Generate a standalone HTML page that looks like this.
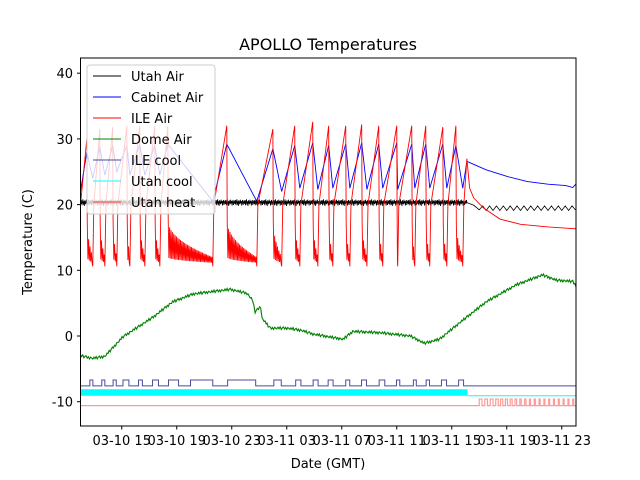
<!DOCTYPE html>
<html><head><meta charset="utf-8">
<style>
html,body{margin:0;padding:0;background:#fff;}
svg{display:block;font-family:"DejaVu Sans","Liberation Sans",sans-serif;}
</style></head>
<body>
<svg id="chart" width="640" height="480" viewBox="0 0 640 480">
<rect x="0" y="0" width="640" height="480" fill="#fff"/>
<text x="328" y="50" font-size="16" text-anchor="middle">APOLLO Temperatures</text>
<text x="328" y="468" font-size="13" text-anchor="middle">Date (GMT)</text>
<text transform="translate(32,242) rotate(-90)" font-size="13" text-anchor="middle">Temperature (C)</text>
<defs><clipPath id="clip"><rect x="80.5" y="58" width="495.5" height="368"/></clipPath></defs>
<g id="plot" clip-path="url(#clip)"></g>
<g id="axes"></g>
<g id="legend"></g>
</svg>
<script>
// ---- data (hours since 03-10 12:00 GMT; values in deg C) ----
const xTickHours = [3,7,11,15,19,23,27,31,35];
const xTickLabels = ["03-10 15","03-10 19","03-10 23","03-11 03","03-11 07","03-11 11","03-11 15","03-11 19","03-11 23"];
const yTicks = [-10,0,10,20,30,40];

const ilePeakHours = [0.46,1.4,2.34,3.37,4.31,5.4,6.35,10.64,13.99,15.58,16.89,18.05,19.29,20.45,21.69,23.0,24.09,25.11,26.35,27.3,28.1];
const ilePeakValues = [30,31.5,31.8,32,32,32,32,32,31.5,32,32.6,32,32,32.2,32,32,32,32,31.8,32,27];
const riseStartHours = [0.89,1.77,2.64,3.59,4.68,5.77,9.62,12.82,14.63,15.95,17.26,18.35,19.59,20.83,21.98,23.07,24.31,25.4,26.64,27.8];
const ileTailHours = [28.3,28.6,29.3,30.5,32,34,36.1];
const ileTailValues = [22.5,21,19.5,17.8,17,16.6,16.3];

const cabPeakValues = [28,28.8,29,29,29.2,29,29.2,29.2,28.5,29,29.4,29,29.2,29.4,29.2,29.4,29.2,29.2,29.2,29,26.6];
const cabTroughValues = [24,24.5,25,24.5,24.5,24.5,20.5,20.5,22,22.5,22.3,22.5,22.5,22.3,22.5,22.3,22.5,22.5,22.5,22.5];
const cabTailHours = [28.4,29.5,31,32.5,34,35.3,35.8,36.1];
const cabTailValues = [26.3,25.3,24.3,23.5,23.1,22.9,22.6,23.3];

const utahNoise = [0.3,-0.2,0.4,-0.4,0.1,0.5,-0.3,0.2,-0.5,0.35,0,-0.25,0.45,-0.1,0.25,-0.45,0.15,0.4,-0.35,0.05];
const utahBase = 20.3;
const utahTailHours = [28.1,28.6,29.0,29.25,29.5,29.75,30.0,30.25,30.5,30.75,31.0,31.25,31.5,31.75,32.0,32.25,32.5,32.75,33.0,33.25,33.5,33.75,34.0,34.25,34.5,34.75,35.0,35.25,35.5,35.75,36.0];
const utahTailValues = [20.3,19.9,19.2,19.8,19.1,19.8,19.1,19.8,19.1,19.8,19.1,19.8,19.1,19.8,19.1,19.8,19.1,19.8,19.1,19.8,19.1,19.8,19.1,19.8,19.1,19.8,19.1,19.8,19.1,19.8,19.2];

const domeHours = [0,0.9,1.77,3.1,5.3,6.7,8.2,10.9,12.1,12.5,12.7,13.1,13.2,13.8,15.0,16.0,16.9,19.1,19.8,21.8,24.0,25.0,26.1,27.8,29.5,31.7,33.6,34.6,35.8,36.1];
const domeValues = [-3.0,-3.4,-3.1,-0.1,2.9,5.2,6.4,7.1,6.5,5.5,3.7,4.5,2.7,1.2,1.2,0.9,0.3,-0.5,0.7,0.5,0.0,-1.1,-0.5,2.4,5.2,7.8,9.3,8.5,8.3,7.5];
const domeNoise = [0.15,-0.1,0.2,-0.2,0.05,0.18,-0.15,0.1,-0.2,0.12,0,-0.12];

const ileCoolStart = [0.68,1.55,2.37,3.09,4.22,5.24,6.4,8.0,10.7,14.06,15.65,16.92,18.01,19.29,20.44,21.72,22.98,24.21,25.14,26.25,27.5];
const ileCoolEnd = [0.9,1.77,2.6,3.52,4.5,5.67,7.13,9.62,12.74,14.6,16.03,17.28,18.37,19.58,20.8,22.13,23.22,24.42,25.38,26.62,27.86];
const ileCoolLow = -7.6, ileCoolHigh = -6.7;

const utahCoolEndHour = 28.15;
const utahCoolTop = -8.1, utahCoolBottom = -9.1;

const heatStart = [29.0,29.4,29.8,30.2,30.55,30.9,31.25,31.6,31.95,32.3,32.65,33.0,33.35,33.7,34.05,34.4,34.75,35.1,35.45,35.8];
const heatDur = [0.2,0.2,0.2,0.18,0.16,0.15,0.14,0.12,0.1,0.1,0.08,0.08,0.08,0.07,0.07,0.07,0.07,0.07,0.07,0.07];
const heatLow = -10.6, heatHigh = -9.6;

const legendNames = ["Utah Air","Cabinet Air","ILE Air","Dome Air","ILE cool","Utah cool","Utah heat"];
const legendColors = ["#000","#0000ff","#ff0000","#008000","#4b4b9c","#00ffff","#ff4040"];

// ---- scales ----
const X0 = 80.5, PXH = 13.75;
function X(h){ return X0 + h*PXH; }
function Y(v){ return 336 - 6.57*v; }
const NS = "http://www.w3.org/2000/svg";
const plot = document.getElementById('plot');
const axes = document.getElementById('axes');
const legend = document.getElementById('legend');
function mk(tag, attrs, parent){ const e=document.createElementNS(NS,tag); for(const k in attrs) e.setAttribute(k,attrs[k]); parent.appendChild(e); return e; }
function pathFrom(pts){ return pts.map((p,i)=>(i?'L':'M')+X(p[0]).toFixed(2)+' '+Y(p[1]).toFixed(2)).join(' '); }

// ---- Utah cool band ----
let e = mk('rect',{x:X(0),y:Y(utahCoolTop),width:X(utahCoolEndHour)-X(0),height:Y(utahCoolBottom)-Y(utahCoolTop),fill:'#00ffff'},plot);


e = mk('path',{d:pathFrom([[utahCoolEndHour,utahCoolBottom],[37,utahCoolBottom]]),stroke:'#00ffff',fill:'none','stroke-width':1},plot);



// ---- Utah heat ----
let hp = [[0,heatLow]];
heatStart.forEach((s,i)=>{ hp.push([s,heatLow],[s,heatHigh],[s+heatDur[i],heatHigh],[s+heatDur[i],heatLow]); });
hp.push([37,heatLow]);
e = mk('path',{d:pathFrom(hp),stroke:'#ff0000','stroke-opacity':0.4,fill:'none','stroke-width':1.2},plot);



// ---- ILE cool ----
let cp = [[0,ileCoolLow]];
ileCoolStart.forEach((s,i)=>{ cp.push([s,ileCoolLow],[s,ileCoolHigh],[ileCoolEnd[i],ileCoolHigh],[ileCoolEnd[i],ileCoolLow]); });
cp.push([37,ileCoolLow]);
e = mk('path',{d:pathFrom(cp),stroke:'#4b4b9c',fill:'none','stroke-width':1},plot);



// ---- Dome Air ----
let gp = [];
let gk = 0;
for(let i=0;i<domeHours.length-1;i++){
  const h0=domeHours[i], h1=domeHours[i+1], v0=domeValues[i], v1=domeValues[i+1];
  const n = Math.max(1, Math.round((h1-h0)/0.08));
  for(let j=0;j<n;j++){ const f=j/n; gp.push([h0+(h1-h0)*f, v0+(v1-v0)*f + domeNoise[gk%domeNoise.length]]); gk++; }
}
gp.push([domeHours[domeHours.length-1], domeValues[domeValues.length-1]]);
e = mk('path',{d:pathFrom(gp),stroke:'#008000',fill:'none','stroke-width':1.1},plot);



// ---- Cabinet Air ----
let bp = [[0,22]];
ilePeakHours.forEach((p,i)=>{
  bp.push([p,cabPeakValues[i]]);
  if(i<riseStartHours.length) bp.push([riseStartHours[i],cabTroughValues[i]]);
});
cabTailHours.forEach((h,i)=>bp.push([h,cabTailValues[i]]));
e = mk('path',{d:pathFrom(bp),stroke:'#0000ff',fill:'none','stroke-width':0.9},plot);



// ---- Utah Air ----
let up = [];
let k=0;
for(let h=0; h<=28.1; h+=0.035){ up.push([h, utahBase + utahNoise[k%utahNoise.length]]); k++; }
utahTailHours.forEach((h,i)=>up.push([h,utahTailValues[i]]));
e = mk('path',{d:pathFrom(up),stroke:'#000',fill:'none','stroke-width':0.8},plot);



// ---- ILE Air ----
let rp = [[0,20]];
ilePeakHours.forEach((p,i)=>{
  rp.push([p,ilePeakValues[i]]);
  if(i<riseStartHours.length){
    const r = riseStartHours[i];
    rp.push([p+0.03,17.5]);
    const span = r-p-0.03;
    const n = Math.max(2, Math.round(span/0.05));
    for(let j=1;j<n;j++){
      const f=j/n;
      const up1 = 17.5 - 5.5*Math.sqrt(f);
      rp.push([p+0.03+span*f, (j%2)? 11 + (up1-11)*0.15 : up1]);
    }
    rp.push([r,10.6],[r+0.08,20]);
  }
});
ileTailHours.forEach((h,i)=>rp.push([h,ileTailValues[i]]));
e = mk('path',{d:pathFrom(rp),stroke:'#ff0000',fill:'none','stroke-width':0.9},plot);



// ---- axes frame & ticks ----
e = mk('rect',{x:80.5,y:58,width:495.5,height:368,fill:'none',stroke:'#000','stroke-width':1},axes);


yTicks.forEach(v=>{
  const t = mk('line',{x1:77,x2:80.5,y1:Y(v),y2:Y(v),stroke:'#000'},axes);
  
  
  const l = mk('text',{x:73,y:Y(v)+5,'font-size':13,'text-anchor':'end'},axes);
  l.textContent = v;
  
  
});
xTickHours.forEach((h,i)=>{
  const t = mk('line',{x1:X(h),x2:X(h),y1:426,y2:429.5,stroke:'#000'},axes);
  
  
  const l = mk('text',{x:X(h),y:445,'font-size':13,'text-anchor':'middle'},axes);
  l.textContent = xTickLabels[i];
  
  
});

// ---- legend ----
e = mk('rect',{x:87,y:65,width:128,height:149,rx:3,fill:'#fff','fill-opacity':0.8,stroke:'#cccccc','stroke-width':1},legend);


legendNames.forEach((n,i)=>{
  const y = 76 + i*21;
  const ln = mk('line',{x1:93,x2:121,y1:y,y2:y,stroke:legendColors[i],'stroke-width':1},legend);
  
  
  const tx = mk('text',{x:131,y:y+5,'font-size':13},legend);
  tx.textContent = n;
  
  
});
</script>
</body></html>
